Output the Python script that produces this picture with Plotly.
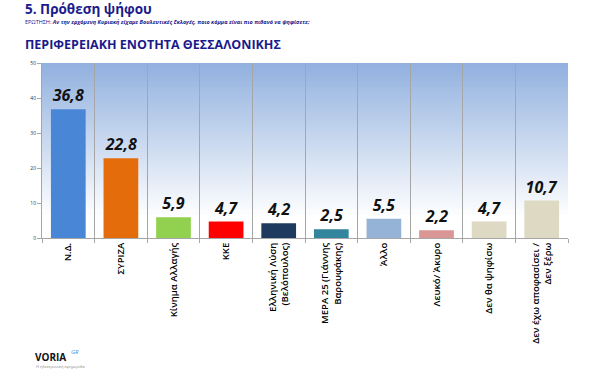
import plotly.graph_objects as go

categories = ["Ν.Δ.", "ΣΥΡΙΖΑ", "Κίνημα Αλλαγής", "ΚΚΕ", "Ελληνική Λύση<br>(Βελόπουλος)",
              "ΜΕΡΑ 25 (Γιάννης<br>Βαρουφάκης)", "Άλλο", "Λευκό/ Άκυρο", "Δεν θα ψηφίσω",
              "Δεν έχω αποφασίσει /<br>Δεν ξέρω"]
values = [36.8, 22.8, 5.9, 4.7, 4.2, 2.5, 5.5, 2.2, 4.7, 10.7]
value_labels = ["36,8", "22,8", "5,9", "4,7", "4,2", "2,5", "5,5", "2,2", "4,7", "10,7"]
colors = ["#4a86d6", "#e46c0a", "#92d050", "#ff0000", "#1f3a5f",
          "#31859c", "#95b3d7", "#d99694", "#ddd9c3", "#ddd9c3"]
y_ticks = [0, 10, 20, 30, 40, 50]

W, H = 600, 377
L, R, T, B = 42, 32, 63, 139
PW, PH = W - L - R, H - T - B


def px(x):
    return (x - L) / PW


def py(y):
    return (H - B - y) / PH


fig = go.Figure()
fig.add_trace(go.Bar(
    x=categories, y=values, marker=dict(color=colors, line=dict(width=0)),
    width=0.66, text=value_labels, textposition="outside", cliponaxis=False,
    textfont=dict(family="Open Sans", size=16, color="#111111"),
    texttemplate="<b><i>%{text}</i></b>", hoverinfo="skip",
))

# gradient background
n = 120
top = (146, 177, 223)
for i in range(n):
    f = i / n
    t = min(1.0, f / 0.88)
    c = tuple(int(round(top[k] + (255 - top[k]) * t)) for k in range(3))
    fig.add_shape(type="rect", xref="x domain", yref="y domain",
                  x0=0, x1=1, y0=1 - (i + 1.6) / n, y1=1 - i / n,
                  fillcolor="rgb(%d,%d,%d)" % c, line=dict(width=0), layer="below")

fig.update_layout(
    width=W, height=H,
    margin=dict(l=L, r=R, t=T, b=B, autoexpand=False),
    paper_bgcolor="white", plot_bgcolor="rgba(0,0,0,0)",
    showlegend=False,
    font=dict(family="Open Sans", color="#000000"),
    xaxis=dict(tickangle=-90, tickson="boundaries", showgrid=True, gridcolor="#a6a6a6",
               gridwidth=1, showline=True, linecolor="#a6a6a6", mirror=False,
               ticks="outside", ticklen=4, tickcolor="#a6a6a6", automargin=False,
               tickfont=dict(family="Open Sans", size=9.5, color="#000000", weight=600)),
    yaxis=dict(range=[0, 50], tickvals=y_ticks, showgrid=False, showline=True,
               linecolor="#a6a6a6", ticks="outside", ticklen=4, tickcolor="#a6a6a6",
               automargin=False, tickfont=dict(size=5, color="#333333"), zeroline=False),
    annotations=[
        dict(text="<b>5. Πρόθεση ψήφου</b>", x=px(23), y=py(-2), xref="paper", yref="paper",
             xanchor="left", yanchor="top", showarrow=False,
             font=dict(family="Open Sans", size=13.5, color="#1a1a8c")),
        dict(text="ΕΡΩΤΗΣΗ: <b><i>Αν την ερχόμενη Κυριακή είχαμε Βουλευτικές Εκλογές, ποιο κόμμα είναι πιο πιθανό να ψηφίσετε;</i></b>",
             x=px(23), y=py(16.5), xref="paper", yref="paper",
             xanchor="left", yanchor="top", showarrow=False,
             font=dict(family="Open Sans", size=5.5, color="#1a1a8c")),
        dict(text="<b>ΠΕΡΙΦΕΡΕΙΑΚΗ ΕΝΟΤΗΤΑ ΘΕΣΣΑΛΟΝΙΚΗΣ</b>", x=px(23), y=py(34),
             xref="paper", yref="paper", xanchor="left", yanchor="top", showarrow=False,
             font=dict(family="Open Sans", size=12.5, color="#1a1a8c")),
        dict(text="<b>VORIA</b>", x=px(33), y=py(348), xref="paper", yref="paper",
             xanchor="left", yanchor="top", showarrow=False,
             font=dict(family="Open Sans", size=10, color="#111111")),
        dict(text="<i>GR</i>", x=px(69), y=py(346), xref="paper", yref="paper",
             xanchor="left", yanchor="top", showarrow=False,
             font=dict(family="Open Sans", size=6, color="#4a86d6")),
        dict(text="Η ηλεκτρονική εφημερίδα", x=px(34), y=py(362), xref="paper",
             yref="paper", xanchor="left", yanchor="top", showarrow=False,
             font=dict(family="Open Sans", size=4, color="#888888")),
    ],
)

fig.write_html("out.html", config={"displayModeBar": False, "staticPlot": True},
               post_script="document.body.style.margin='0px';")
